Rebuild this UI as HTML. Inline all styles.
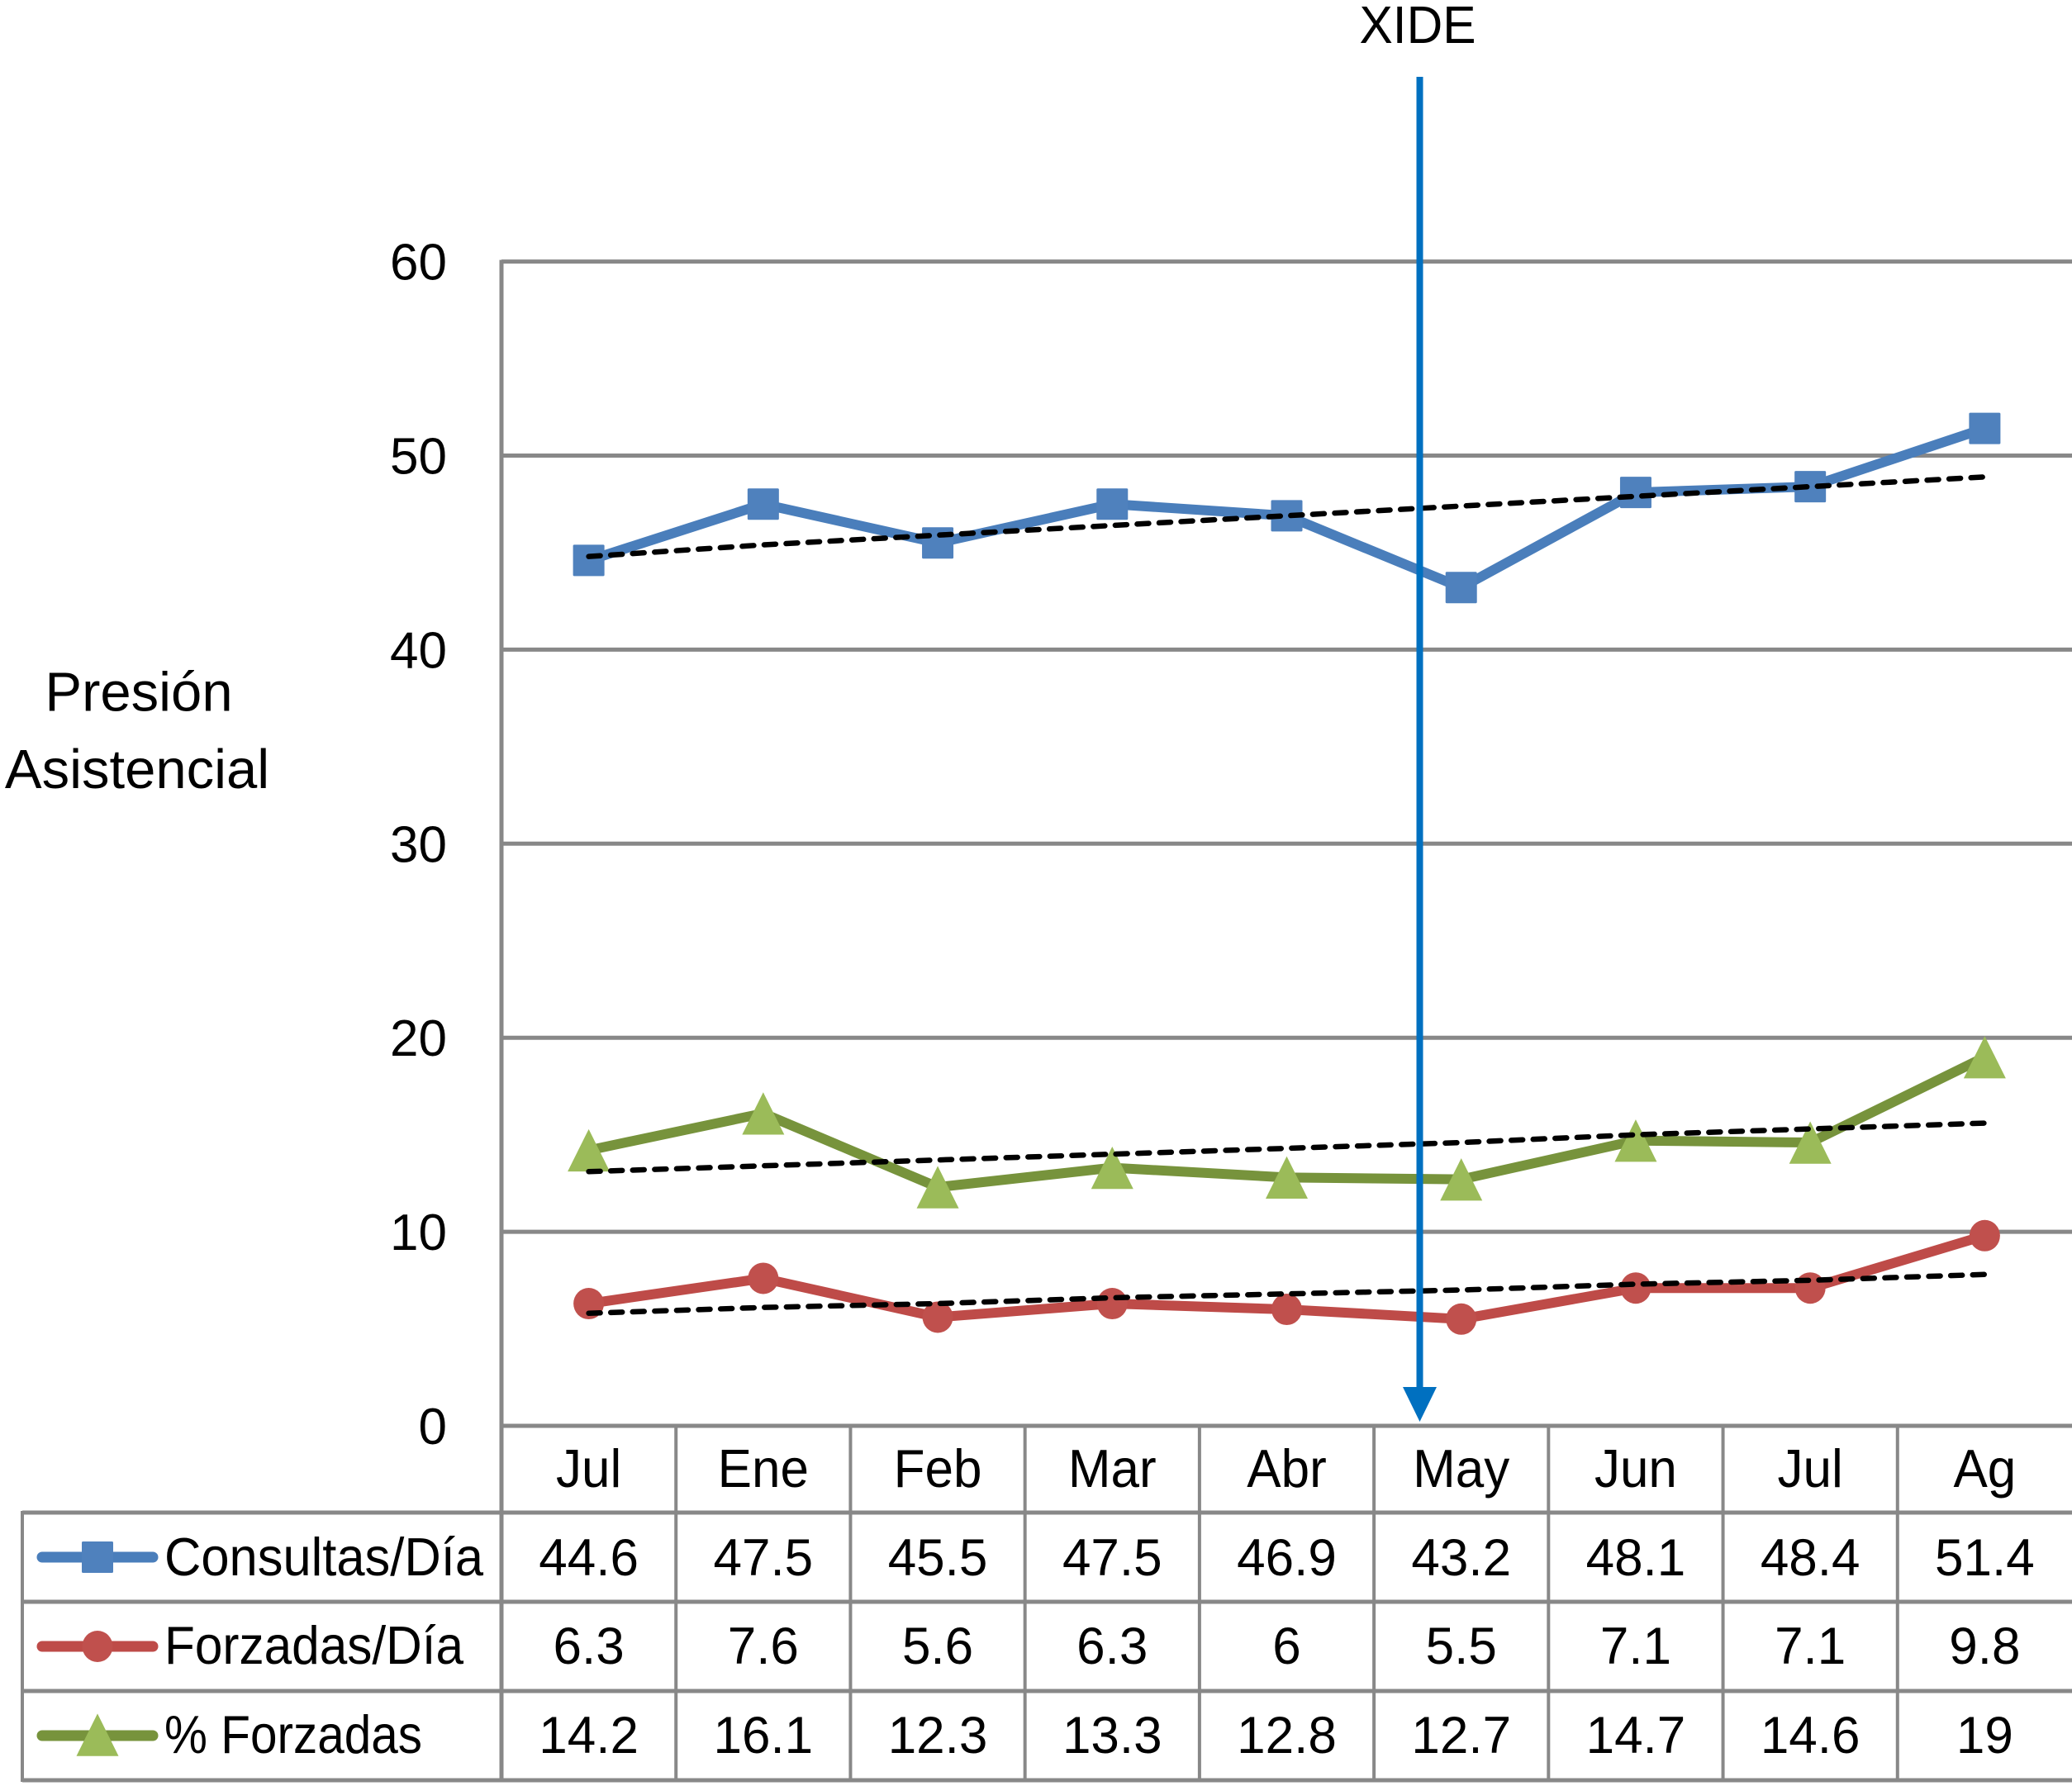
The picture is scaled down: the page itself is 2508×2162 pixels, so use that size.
<!DOCTYPE html>
<html lang="es">
<head>
<meta charset="utf-8">
<title>Presión Asistencial</title>
<style>
html,body{margin:0;padding:0;background:#fff;}
svg{display:block;font-family:"Liberation Sans",Arial,sans-serif;fill:#000;}
</style>
</head>
<body>
<svg id="chart" xmlns="http://www.w3.org/2000/svg" width="2508" height="2162" viewBox="0 0 2508 2162">
  <rect x="0" y="0" width="2508" height="2162" fill="#ffffff"/>
  <g id="grid"></g>
  <g id="ticks"></g>
  <g id="table"></g>
  <g id="series"></g>
  <g id="trends"></g>
  <g font-size="67" text-anchor="middle">
    <text x="168" y="860.5">Presión</text>
    <text x="166" y="954">Asistencial</text>
  </g>
  <text x="1716" y="52" font-size="64" text-anchor="middle" textLength="141" lengthAdjust="spacingAndGlyphs">XIDE</text>
  <rect x="1714.5" y="93" width="8" height="1590" fill="#0070C0"/>
  <polygon points="1698,1679 1739,1679 1718.5,1721" fill="#0070C0"/>
</svg>
<script>
const categories = ["Jul","Ene","Feb","Mar","Abr","May","Jun","Jul","Ag"];
const yTicks = [0,10,20,30,40,50,60];
const consultas = [44.6,47.5,45.5,47.5,46.9,43.2,48.1,48.4,51.4];
const forzadas = [6.3,7.6,5.6,6.3,6,5.5,7.1,7.1,9.8];
const pctForzadas = [14.2,16.1,12.3,13.3,12.8,12.7,14.7,14.6,19];
const trendConsultas = [44.8,45.4,45.9,46.4,46.9,47.4,47.9,48.4,48.9];
const trendForzadas = [5.8,6.1,6.3,6.6,6.8,7.0,7.3,7.5,7.8];
const trendPct = [13.1,13.4,13.7,14.0,14.3,14.6,15.0,15.3,15.6];
const seriesNames = ["Consultas/Día","Forzadas/Día","% Forzadas"];

const NS = "http://www.w3.org/2000/svg";
const plotLeft = 607, plotRight = 2508, y0 = 1726, pxPerUnit = 23.49;
const colW = (plotRight - plotLeft) / categories.length;
const grey = "#888888";
const fs = 62;
const xAt = i => plotLeft + colW * (i + 0.5);
const yAt = v => y0 - v * pxPerUnit;

function el(tag, attrs, parent) {
  const e = document.createElementNS(NS, tag);
  for (const k in attrs) e.setAttribute(k, attrs[k]);
  parent.appendChild(e);
  return e;
}
function squeeze(t, width) {
  t.setAttribute("textLength", width);
  t.setAttribute("lengthAdjust", "spacingAndGlyphs");
}
const gGrid = document.getElementById("grid");
const gTicks = document.getElementById("ticks");
const gTable = document.getElementById("table");
const gSeries = document.getElementById("series");
const gTrends = document.getElementById("trends");

/* gridlines and y ticks */
yTicks.forEach(t => {
  const line = el("line", {x1: plotLeft, x2: plotRight, y1: yAt(t), y2: yAt(t), stroke: grey, "stroke-width": 5}, gGrid);
  
  
  const label = el("text", {x: 541, y: yAt(t) + 22, "font-size": fs, "text-anchor": "end"}, gTicks);
  
  
  label.textContent = t;
});
const yAxis = el("line", {x1: plotLeft, x2: plotLeft, y1: yAt(60) - 2, y2: 2157, stroke: grey, "stroke-width": 5}, gGrid);



/* data table */
const rowLines = [1831, 1939, 2047, 2155];
const rowCenters = [1885, 1993, 2101];
const rowBaselines = [1907, 2014, 2122];
rowLines.forEach(y => {
  const line = el("line", {x1: 27, x2: plotRight, y1: y, y2: y, stroke: grey, "stroke-width": 5}, gTable);
  
  
});
const leftEdge = el("line", {x1: 27, x2: 27, y1: 1829, y2: 2157, stroke: grey, "stroke-width": 4}, gTable);


categories.forEach((c, i) => {
  if (i > 0) {
    const x = plotLeft + colW * i;
    const line = el("line", {x1: x, x2: x, y1: y0, y2: 2157, stroke: grey, "stroke-width": 4}, gTable);
    
    
  }
  const label = el("text", {x: xAt(i), y: 1800, "font-size": 65, "text-anchor": "middle"}, gTable);
  
  
  label.textContent = c;
  squeeze(label, label.getComputedTextLength() * fs / 65);
});
const legendLabelWidths = [386, 362, 312];
[consultas, forzadas, pctForzadas].forEach((vals, r) => {
  const name = el("text", {x: 199, y: rowBaselines[r], "font-size": 65}, gTable);
  
  
  name.textContent = seriesNames[r];
  squeeze(name, legendLabelWidths[r]);
  vals.forEach((v, i) => {
    const cell = el("text", {x: xAt(i), y: rowBaselines[r], "font-size": 63, "text-anchor": "middle"}, gTable);
    
    
    cell.textContent = v;
    squeeze(cell, cell.getComputedTextLength() * fs / 63);
  });
});

/* markers */
function square(cx, cy, color, parent) {
  const m = el("rect", {x: cx - 19, y: cy - 19, width: 38, height: 38, rx: 1.5, fill: color}, parent);
  
  
}
function circle(cx, cy, color, parent) {
  const m = el("ellipse", {cx: cx, cy: cy, rx: 18.5, ry: 19, fill: color}, parent);
  
  
}
function triangle(cx, cy, color, parent) {
  const m = el("polygon", {points: (cx - 25.5) + "," + (cy + 25.7) + " " + (cx + 25.5) + "," + (cy + 25.7) + " " + cx + "," + (cy - 25.6), fill: color}, parent);
  
  
}

/* series */
function drawSeries(vals, lineColor, markColor, marker) {
  const pts = vals.map((v, i) => xAt(i) + "," + yAt(v)).join(" ");
  const line = el("polyline", {points: pts, fill: "none", stroke: lineColor, "stroke-width": 12, "stroke-linejoin": "round", "stroke-linecap": "round"}, gSeries);
  
  
  vals.forEach((v, i) => marker(xAt(i), yAt(v), markColor, gSeries));
}
drawSeries(pctForzadas, "#77933C", "#9BBB59", triangle);
drawSeries(forzadas, "#BE4B48", "#C0504D", circle);
drawSeries(consultas, "#4A7EBB", "#4F81BD", square);

/* trendlines */
[trendConsultas, trendForzadas, trendPct].forEach(vals => {
  const pts = vals.map((v, i) => xAt(i) + "," + yAt(v)).join(" ");
  const t = el("polyline", {points: pts, fill: "none", stroke: "#000", "stroke-width": 6.5, "stroke-dasharray": "14 12.6", "stroke-linecap": "round"}, gTrends);
  
  
});

/* legend keys */
const keyColors = ["#4A7EBB", "#BE4B48", "#77933C"];
keyColors.forEach((c, r) => {
  const k = el("line", {x1: 51, x2: 185, y1: rowCenters[r], y2: rowCenters[r], stroke: c, "stroke-width": 13, "stroke-linecap": "round"}, gTable);
  
  
});
square(118, rowCenters[0], "#4F81BD", gTable);
circle(118, rowCenters[1], "#C0504D", gTable);
triangle(118, rowCenters[2] - 1, "#9BBB59", gTable);
</script>
</body>
</html>
